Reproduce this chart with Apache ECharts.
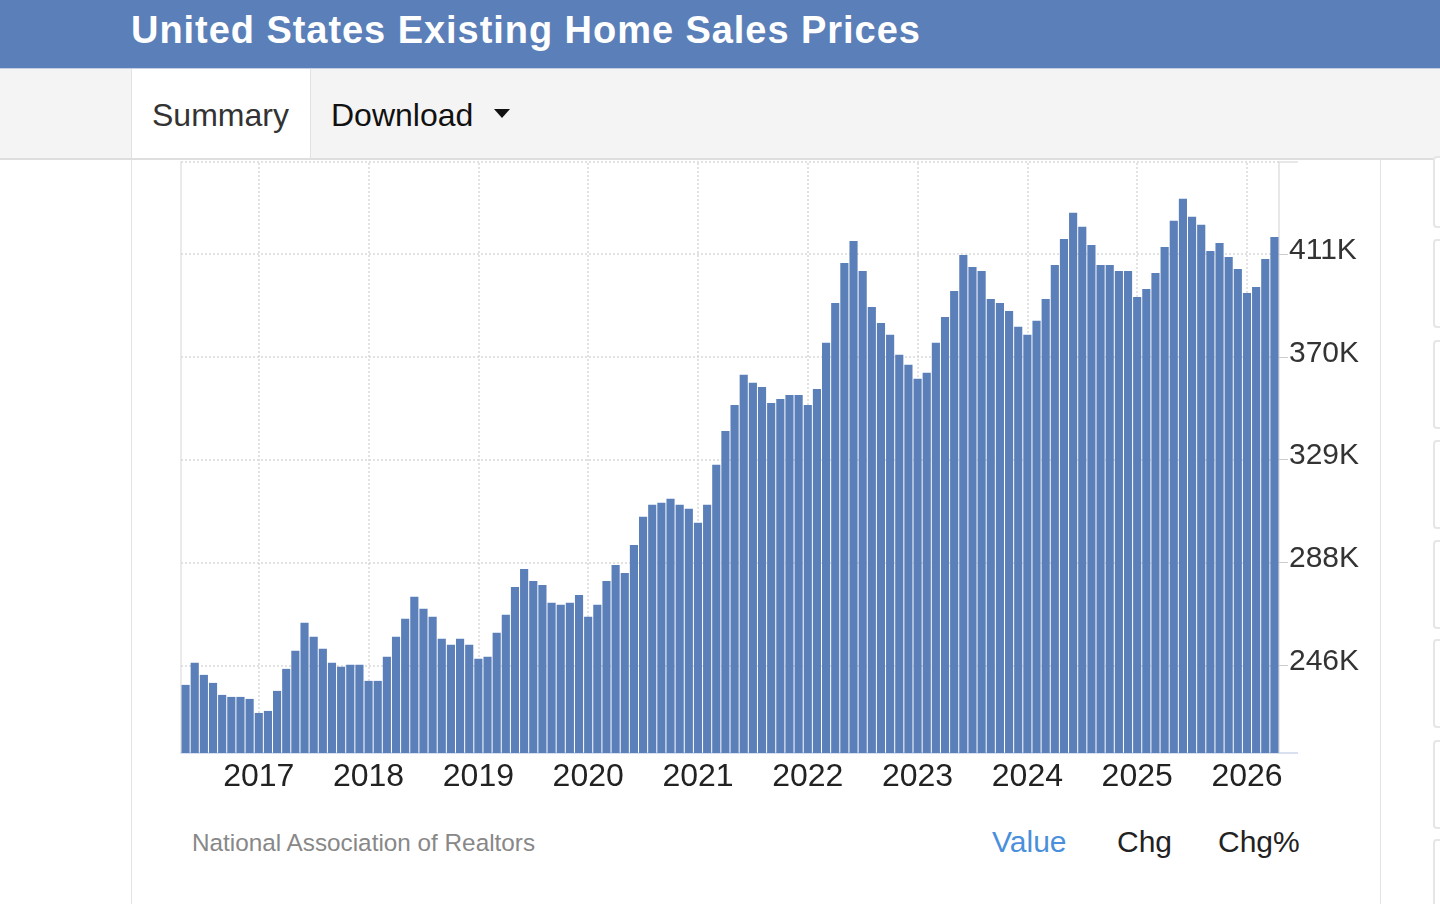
<!DOCTYPE html>
<html>
<head>
<meta charset="utf-8">
<title>United States Existing Home Sales Prices</title>
<script src="https://cdn.jsdelivr.net/npm/echarts@6.0.0/dist/echarts.min.js"></script>
<style>
	html, body { margin: 0; padding: 0; width: 1440px; height: 904px; overflow: hidden; background: #fff; }
	body { font-family: "Liberation Sans", Arial, Helvetica, sans-serif; position: relative; }
	#header { position: absolute; left: 0; top: 0; width: 1440px; height: 68px; background: #5b7fb8; border-bottom: 1px solid #c3cfe2; }
	#header h1 { position: absolute; left: 131px; top: 11px; margin: 0; font-size: 38px; line-height: 38px; letter-spacing: 0.95px; font-weight: bold; color: #fff; white-space: nowrap; }
	#tabs { position: absolute; left: 0; top: 69px; width: 1440px; height: 89px; background: #f4f4f4; border-bottom: 2px solid #dedede; }
	#tab-summary { position: absolute; left: 131px; top: 0; width: 178px; height: 89px; background: #fff; border-left: 1px solid #e2e2e2; border-right: 1px solid #e2e2e2; }
	.tab-text { position: absolute; top: 28px; font-size: 32px; line-height: 36px; white-space: nowrap; }
	#summary-text { left: 20px; color: #333; }
	#download-text { left: 331px; color: #111; }
	#caret { position: absolute; left: 494px; top: 40px; width: 0; height: 0; border-left: 8px solid transparent; border-right: 8px solid transparent; border-top: 9px solid #111; }
	.vline { position: absolute; top: 160px; width: 1px; height: 744px; background: #e3e3e3; }
	.side-box { position: absolute; left: 1433px; width: 30px; border: 2px solid #e6e6e6; border-radius: 4px; background: #fff; }
	.foot { position: absolute; white-space: nowrap; }
	#source { left: 192px; top: 829px; font-size: 24.3px; line-height: 28px; color: #888; }
	#f-value { left: 992px; top: 826px; font-size: 30px; line-height: 32px; color: #4a8fdc; }
	#f-chg { left: 1117px; top: 826px; font-size: 30px; line-height: 32px; color: #222; }
	#f-chgp { left: 1218px; top: 826px; font-size: 30px; line-height: 32px; color: #222; }
	#chart { position: absolute; left: 0; top: 0; width: 1440px; height: 904px; z-index: 2; }
</style>
</head>
<body>
	<div id="header"><h1>United States Existing Home Sales Prices</h1></div>
	<div id="tabs">
		<div id="tab-summary"><span class="tab-text" id="summary-text">Summary</span></div>
		<span class="tab-text" id="download-text">Download</span>
		<span id="caret"></span>
	</div>
	<div class="vline" style="left:131px"></div>
	<div class="vline" style="left:1380px"></div>
	<div class="side-box" style="top:156px;height:68px"></div>
	<div class="side-box" style="top:239px;height:85px"></div>
	<div class="side-box" style="top:340px;height:85px"></div>
	<div class="side-box" style="top:440px;height:85px"></div>
	<div class="side-box" style="top:540px;height:85px"></div>
	<div class="side-box" style="top:639px;height:85px"></div>
	<div class="side-box" style="top:740px;height:85px"></div>
	<div class="side-box" style="top:839px;height:85px"></div>
	<div class="foot" id="source">National Association of Realtors</div>
	<div class="foot" id="f-value">Value</div>
	<div class="foot" id="f-chg">Chg</div>
	<div class="foot" id="f-chgp">Chg%</div>
	<div id="chart"></div>

<script>
	// first month of the series and number of monthly bars
	var startYear = 2016;
	var startMonth = 5;
	var monthCount = 120;

	// median price, thousands USD, one bar per month (May 2016 .. Apr 2026)
	var prices2016 = [238.7, 247.5, 242.7, 239.5, 234.7, 233.9, 233.9, 233.1];
	var prices2017 = [227.5, 228.3, 236.3, 245.1, 252.3, 263.5, 257.9, 253.1, 247.5, 245.9, 246.7, 246.7];
	var prices2018 = [240.3, 240.3, 249.9, 257.9, 265.1, 273.9, 269.1, 265.9, 257.1, 254.7, 257.1, 254.7];
	var prices2019 = [249.1, 249.9, 259.5, 266.7, 277.8, 285.0, 280.2, 278.6, 271.5, 270.7, 271.5, 274.6];
	var prices2020 = [265.9, 270.7, 280.2, 286.6, 283.4, 294.6, 305.8, 310.6, 311.4, 313.0, 310.6, 309.0];
	var prices2021 = [303.4, 310.6, 326.6, 340.1, 350.5, 362.5, 359.3, 357.7, 351.3, 352.9, 354.5, 354.5];
	var prices2022 = [350.5, 356.9, 375.3, 391.2, 407.2, 416.0, 404.0, 389.6, 383.2, 378.5, 370.5, 366.5];
	var prices2023 = [360.9, 363.3, 375.3, 385.6, 396.0, 410.4, 405.6, 404.0, 392.8, 391.2, 388.0, 381.7];
	var prices2024 = [378.5, 384.1, 392.8, 406.4, 416.8, 427.2, 421.6, 414.4, 406.4, 406.4, 404.0, 404.0];
	var prices2025 = [393.6, 396.8, 403.2, 413.6, 424.0, 432.8, 425.6, 422.4, 412.0, 415.2, 409.6, 404.8];
	var prices2026 = [395.2, 397.6, 408.8, 417.6];

	// value axis: range and labelled ticks (thousands)
	var yMin = 211.5;
	var yMax = 447.5;
	var yTicks = [246.48, 287.56, 328.64, 369.72, 410.8];

	// years marked with a vertical grid line
	var yearMarks = ['2017', '2018', '2019', '2020', '2021', '2022', '2023', '2024', '2025', '2026'];

	var HomePriceChart = {

		init: function () {
			this.months = this.buildMonths();
			this.prices = [].concat(prices2016, prices2017, prices2018, prices2019, prices2020,
				prices2021, prices2022, prices2023, prices2024, prices2025, prices2026);
			this.renderChart();
		},

		// month categories like 2016-05
		buildMonths: function () {
			var list = [];
			var y = startYear, m = startMonth;
			for (var i = 0; i < monthCount; i++) {
				list.push(y + '-' + (m < 10 ? '0' + m : m));
				m++;
				if (m > 12) { m = 1; y++; }
			}
			return list;
		},

		renderChart: function () {
			var myChart = echarts.init(document.getElementById('chart'), null, { renderer: 'canvas' });
			var gridStyle = { color: '#d9d9d9', width: 1.5, type: [2, 2] };

			// dotted grid lines drawn under the bars
			var lines = [];
			yearMarks.forEach(function (yr) {
				lines.push({ xAxis: yr + '-01' });
			});
			yTicks.forEach(function (v) {
				lines.push({ yAxis: v });
			});
			lines.push({ yAxis: yMax });

			var option = {
				backgroundColor: 'transparent',
				animation: false,
				grid: { left: 181, right: 161, top: 162, bottom: 151, containLabel: false },
				xAxis: {
					type: 'category',
					data: this.months,
					boundaryGap: true,
					axisLine: { show: true, lineStyle: { color: '#ccd6eb', width: 1.5 } },
					axisTick: { show: false },
					axisLabel: {
						interval: function (index, value) {
							return value.slice(5) === '01';
						},
						formatter: function (value) {
							return value.slice(0, 4);
						},
						fontSize: 32,
						color: '#222',
						margin: 8,
						fontFamily: 'Liberation Sans, Arial, sans-serif'
					},
					splitLine: { show: false }
				},
				yAxis: [
					{
						type: 'value',
						position: 'right',
						min: yMin,
						max: yMax,
						axisLine: { show: true, lineStyle: { color: '#e0e0e0', width: 1.5 } },
						axisTick: { show: true, customValues: yTicks, length: 9, lineStyle: { color: '#cccccc' } },
						axisLabel: {
							customValues: yTicks,
							formatter: function (v) {
								return '{t|' + Math.round(v) + 'K}';
							},
							rich: {
								t: { fontSize: 30, color: '#333', padding: [0, 0, 7, 0], fontFamily: 'Liberation Sans, Arial, sans-serif' }
							},
							margin: 10
						},
						splitLine: { show: false }
					},
					{
						// left border of the plot
						type: 'value',
						position: 'left',
						min: yMin,
						max: yMax,
						axisLine: { show: true, lineStyle: { color: '#e3e3e3', width: 1.5 } },
						axisTick: { show: false },
						axisLabel: { show: false },
						splitLine: { show: false }
					}
				],
				graphic: [
					{ type: 'line', shape: { x1: 1279, y1: 753, x2: 1298, y2: 753 }, style: { stroke: '#ccd6eb', lineWidth: 1.5 } },
					{ type: 'line', shape: { x1: 1279, y1: 162, x2: 1298, y2: 162 }, style: { stroke: '#e0e0e0', lineWidth: 1.5 } }
				],
				series: [
					{
						name: 'Existing Home Sales Prices',
						type: 'bar',
						yAxisIndex: 0,
						data: this.prices,
						barCategoryGap: '11%',
						z: 2,
						itemStyle: { color: '#5b7fb8' },
						markLine: {
							silent: true,
							z: 1,
							symbol: ['none', 'none'],
							label: { show: false },
							lineStyle: gridStyle,
							data: lines
						}
					}
				]
			};

			myChart.setOption(option);
		}
	};

	HomePriceChart.init();
</script>
</body>
</html>
